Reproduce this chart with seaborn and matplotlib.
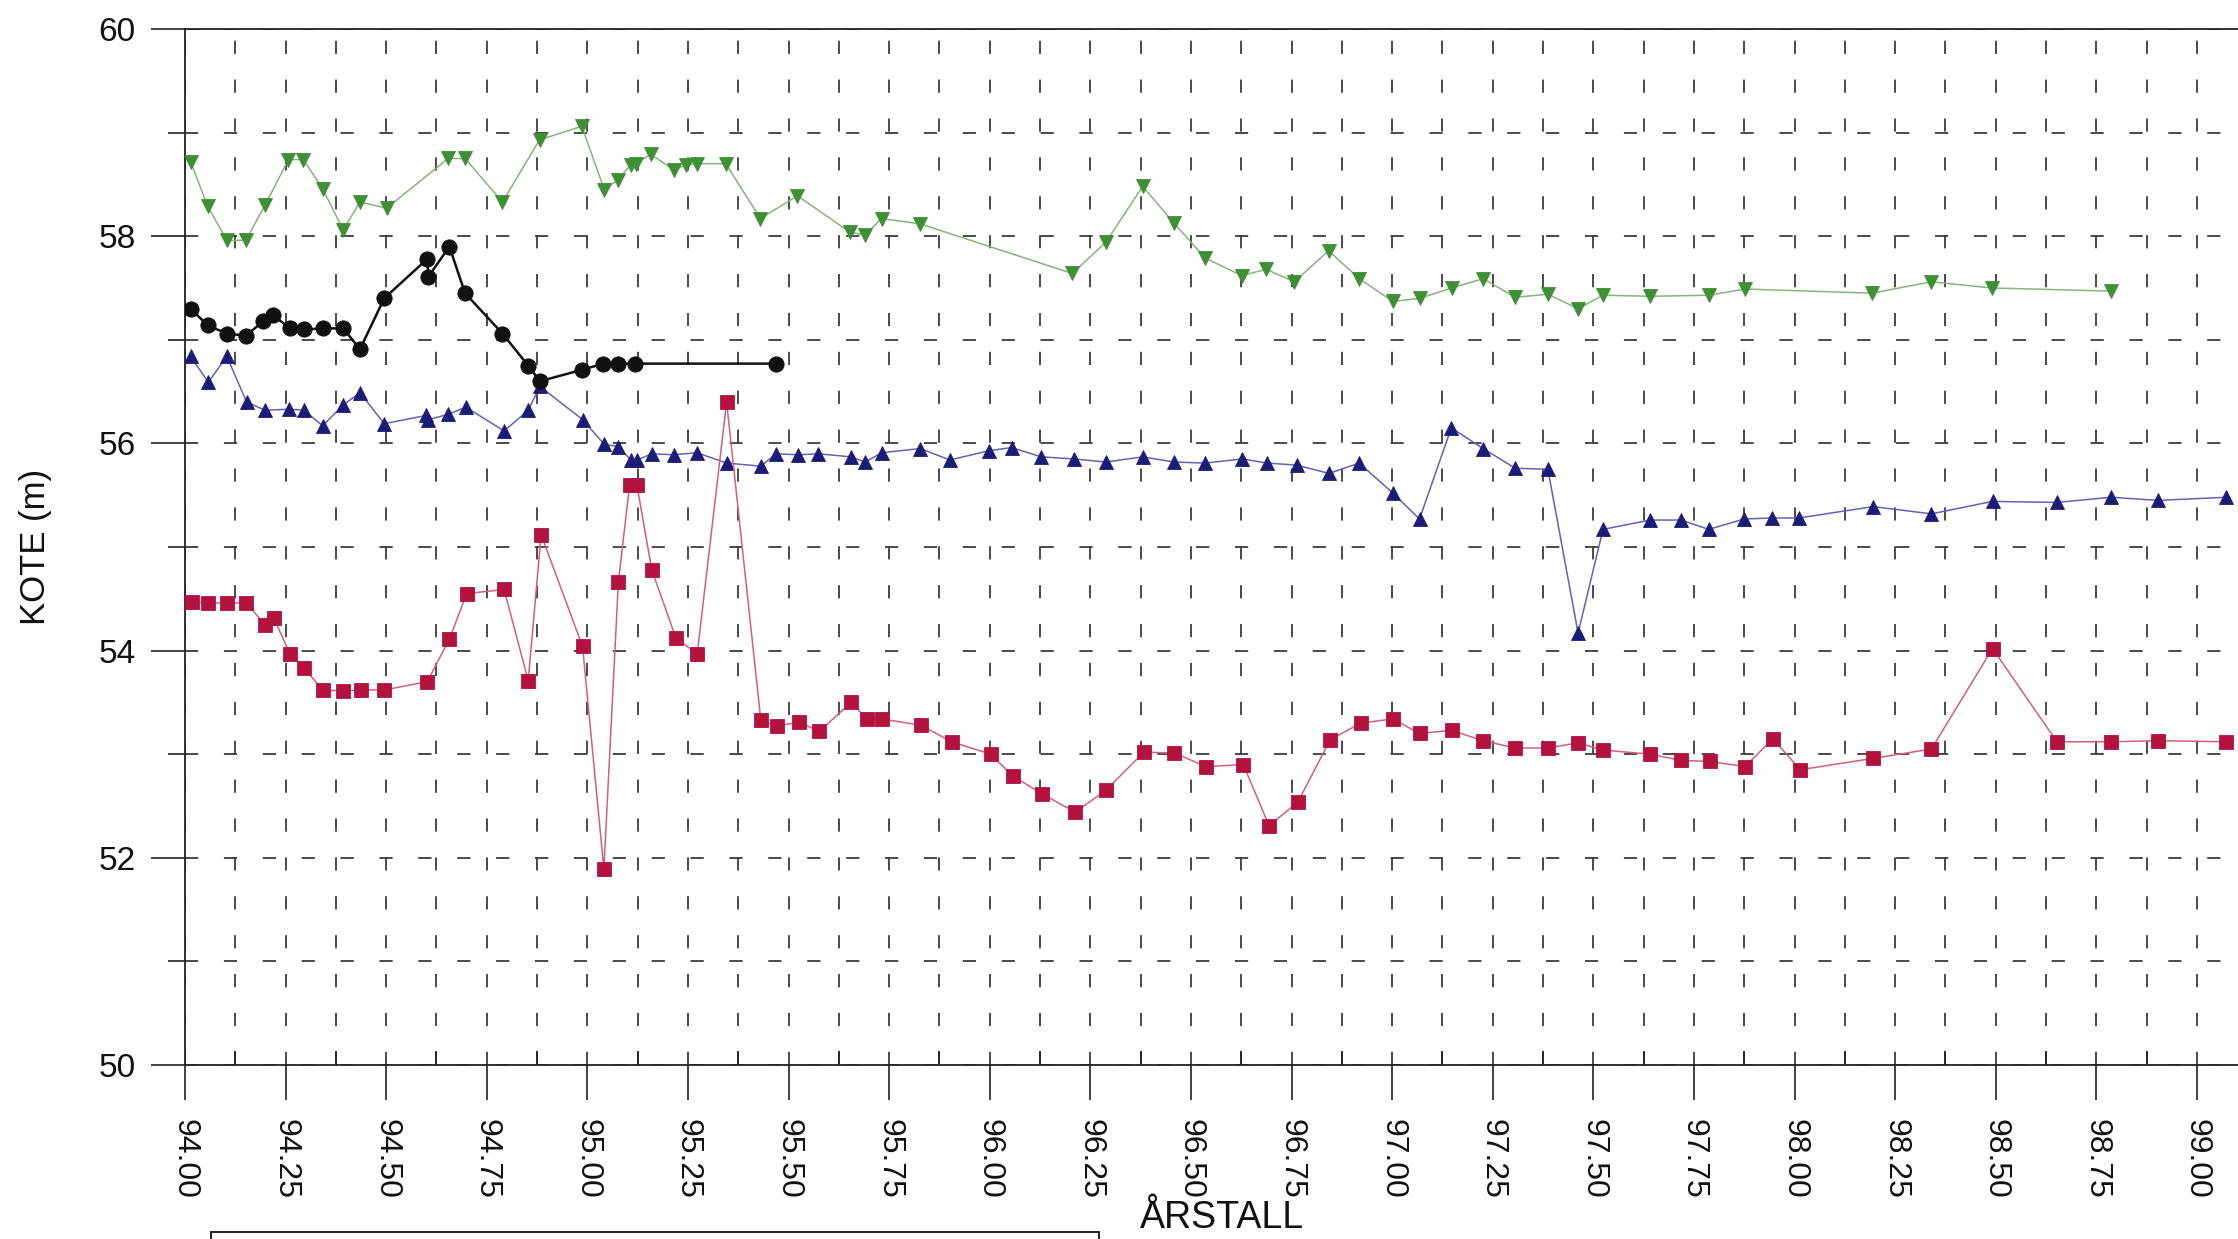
import matplotlib
matplotlib.use("Agg")
import matplotlib.pyplot as plt
import seaborn as sns
from matplotlib.ticker import MultipleLocator, FormatStrFormatter
from matplotlib.patches import Rectangle

# ---- measured levels (KOTE, m) against year (ÅRSTALL) ----
green_years = [94.014, 94.056, 94.104, 94.151, 94.199, 94.257, 94.294, 94.342, 94.393, 94.435,
               94.501, 94.654, 94.696, 94.789, 94.881, 94.986, 95.042, 95.075, 95.108, 95.120,
               95.157, 95.215, 95.245, 95.272, 95.344, 95.430, 95.522, 95.652, 95.690, 95.731,
               95.826, 96.205, 96.288, 96.380, 96.457, 96.535, 96.626, 96.687, 96.757, 96.842,
               96.918, 97.002, 97.068, 97.148, 97.226, 97.306, 97.387, 97.462, 97.524, 97.641,
               97.787, 97.877, 98.193, 98.340, 98.490, 98.786]
green_kote = [58.72, 58.29, 57.96, 57.96, 58.30, 58.74, 58.74, 58.46, 58.06, 58.33,
              58.27, 58.75, 58.75, 58.33, 58.93, 59.06, 58.45, 58.54, 58.69, 58.70,
              58.79, 58.64, 58.69, 58.70, 58.70, 58.17, 58.39, 58.04, 58.01, 58.17,
              58.12, 57.64, 57.94, 58.48, 58.13, 57.79, 57.62, 57.68, 57.56, 57.86,
              57.59, 57.37, 57.40, 57.50, 57.59, 57.41, 57.44, 57.30, 57.43, 57.42,
              57.43, 57.49, 57.45, 57.56, 57.50, 57.47]

black_years = [94.014, 94.056, 94.104, 94.151, 94.195, 94.218, 94.261, 94.296, 94.342, 94.393,
               94.435, 94.495, 94.602, 94.605, 94.657, 94.696, 94.789, 94.853, 94.882, 94.986,
               95.040, 95.075, 95.118, 95.469]
black_kote = [57.30, 57.14, 57.06, 57.04, 57.18, 57.24, 57.11, 57.10, 57.11, 57.11,
              56.91, 57.40, 57.78, 57.61, 57.90, 57.45, 57.06, 56.75, 56.60, 56.71,
              56.77, 56.77, 56.77, 56.77]

blue_years = [94.014, 94.058, 94.104, 94.153, 94.199, 94.259, 94.296, 94.342, 94.393, 94.435,
              94.495, 94.600, 94.605, 94.654, 94.698, 94.793, 94.853, 94.882, 94.988, 95.042,
              95.076, 95.108, 95.124, 95.160, 95.215, 95.272, 95.346, 95.431, 95.469, 95.524,
              95.574, 95.654, 95.690, 95.732, 95.827, 95.901, 95.999, 96.054, 96.128, 96.209,
              96.288, 96.380, 96.459, 96.535, 96.627, 96.690, 96.763, 96.843, 96.918, 97.002,
              97.068, 97.147, 97.226, 97.306, 97.387, 97.462, 97.524, 97.641, 97.718, 97.787,
              97.874, 97.943, 98.011, 98.195, 98.340, 98.492, 98.652, 98.786, 98.904, 99.073]
blue_kote = [56.84, 56.59, 56.84, 56.40, 56.32, 56.33, 56.32, 56.17, 56.37, 56.49,
             56.19, 56.27, 56.23, 56.28, 56.35, 56.12, 56.32, 56.55, 56.23, 55.99,
             55.97, 55.84, 55.84, 55.90, 55.89, 55.91, 55.81, 55.78, 55.90, 55.89,
             55.90, 55.87, 55.82, 55.91, 55.95, 55.84, 55.93, 55.96, 55.87, 55.85,
             55.82, 55.87, 55.82, 55.81, 55.85, 55.81, 55.79, 55.71, 55.81, 55.52,
             55.27, 56.15, 55.95, 55.76, 55.75, 54.17, 55.17, 55.26, 55.26, 55.17,
             55.27, 55.28, 55.28, 55.39, 55.32, 55.44, 55.43, 55.48, 55.45, 55.48]

red_years = [94.017, 94.058, 94.104, 94.152, 94.199, 94.221, 94.261, 94.296, 94.342, 94.393,
             94.437, 94.495, 94.602, 94.657, 94.700, 94.793, 94.853, 94.885, 94.988, 95.041,
             95.077, 95.105, 95.123, 95.160, 95.220, 95.273, 95.346, 95.431, 95.470, 95.526,
             95.576, 95.656, 95.694, 95.731, 95.829, 95.905, 96.002, 96.057, 96.129, 96.212,
             96.288, 96.383, 96.459, 96.538, 96.630, 96.694, 96.766, 96.846, 96.922, 97.002,
             97.068, 97.148, 97.226, 97.306, 97.387, 97.462, 97.524, 97.641, 97.718, 97.789,
             97.877, 97.946, 98.014, 98.196, 98.340, 98.492, 98.652, 98.786, 98.904, 99.073]
red_kote = [54.47, 54.46, 54.46, 54.46, 54.25, 54.31, 53.97, 53.83, 53.62, 53.61,
            53.62, 53.62, 53.70, 54.11, 54.55, 54.59, 53.71, 55.12, 54.04, 51.89,
            54.66, 55.60, 55.60, 54.78, 54.12, 53.97, 56.40, 53.33, 53.27, 53.31,
            53.22, 53.50, 53.34, 53.34, 53.28, 53.12, 53.00, 52.79, 52.62, 52.44,
            52.65, 53.02, 53.01, 52.88, 52.90, 52.31, 52.54, 53.14, 53.30, 53.34,
            53.20, 53.23, 53.13, 53.06, 53.06, 53.11, 53.04, 53.00, 52.94, 52.93,
            52.88, 53.15, 52.85, 52.96, 53.05, 54.02, 53.12, 53.12, 53.13, 53.12]

x_range = (94.0, 99.102)
y_range = (50.0, 60.0)

sns.set_theme(style="white")
plt.rcParams['font.family'] = ['Liberation Sans', 'DejaVu Sans']
plt.rcParams['lines.scale_dashes'] = False

fig = plt.figure(figsize=(22.38, 12.39), dpi=100)
fig.patch.set_facecolor("white")
ax = fig.add_axes([0.08266, 0.14044, 0.91734, 0.83616])
ax.set_facecolor("white")

series = [
    (green_years, green_kote, "v", "#86b47a", "#3f8f35", 1.1, 10.5, 3),
    (blue_years, blue_kote, "^", "#6262b8", "#1c1c78", 1.1, 10.5, 4),
    (black_years, black_kote, "o", "#111111", "#111111", 1.8, 11.0, 5),
    (red_years, red_kote, "s", "#d2607a", "#b3123f", 1.1, 10.0, 6),
]
for xs, ys, mk, lc, mc, lw, ms, z in series:
    sns.lineplot(x=xs, y=ys, ax=ax, estimator=None, sort=False,
                 color=lc, linewidth=lw, marker=mk, markersize=ms,
                 markerfacecolor=mc, markeredgecolor=mc, markeredgewidth=0.6,
                 zorder=z)

ax.set_xlim(*x_range)
ax.set_ylim(*y_range)
ax.set_xlabel("")
ax.set_ylabel("")

ax.xaxis.set_major_locator(MultipleLocator(0.25))
ax.xaxis.set_minor_locator(MultipleLocator(0.125))
ax.yaxis.set_major_locator(MultipleLocator(2))
ax.yaxis.set_minor_locator(MultipleLocator(1))
ax.xaxis.set_major_formatter(FormatStrFormatter("%.2f"))
ax.yaxis.set_major_formatter(FormatStrFormatter("%d"))

ax.tick_params(axis="x", which="major", bottom=True, direction="out", length=25,
               width=1.2, color="#222222", pad=14, labelsize=23, labelrotation=-90,
               labelcolor="#111111")
ax.tick_params(axis="x", which="minor", bottom=True, direction="in", length=10,
               width=1.2, color="#222222")
ax.tick_params(axis="y", which="major", left=True, direction="out", length=24.5,
               width=1.2, color="#222222", pad=11, labelsize=24, labelcolor="#111111")
ax.tick_params(axis="y", which="minor", left=True, direction="out", length=12,
               width=1.2, color="#222222")
for lab in ax.get_xticklabels():
    lab.set_ha("center")
    lab.set_va("top")

grid_style = dict(linestyle=(0, (9.5, 18.5)), color="#3c3c3c", linewidth=1.3)
ax.grid(True, which="both", axis="x", **grid_style)
ax.grid(True, which="both", axis="y", **grid_style)
ax.set_axisbelow(True)

for side in ("left", "bottom", "top"):
    ax.spines[side].set_visible(True)
    ax.spines[side].set_color("#222222")
    ax.spines[side].set_linewidth(1.3)
ax.spines["right"].set_visible(False)

fig.text(36 / 2238, 1 - 547 / 1239, "KOTE (m)", rotation=90, ha="center", va="center",
         fontsize=25, color="#111111")
fig.text(1222 / 2238, 1 - 1218 / 1239, "ÅRSTALL", ha="center", va="center",
         fontsize=27, color="#111111")

# legend frame running off the lower edge
fig.add_artist(Rectangle((211 / 2238, -0.05), (1099 - 211) / 2238, 0.05 + 7 / 1239,
                         transform=fig.transFigure, fill=False, edgecolor="#222222",
                         linewidth=1.4, clip_on=False))

fig.savefig("out.png", dpi=100, facecolor="white")
